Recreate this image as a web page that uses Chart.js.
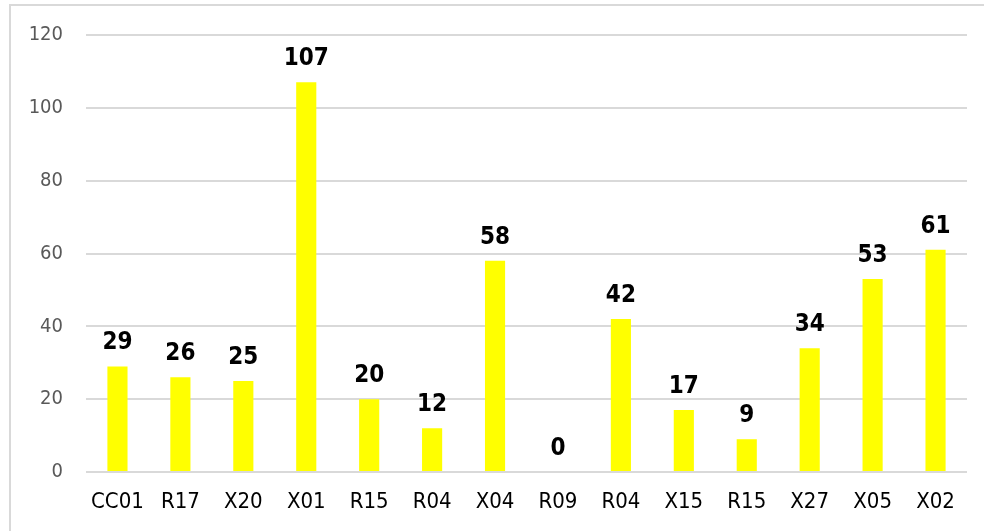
<!DOCTYPE html>
<html>
<head>
<meta charset="utf-8">
<script src="https://cdn.jsdelivr.net/npm/chart.js@4/dist/chart.umd.min.js"></script>
<style>
html,body{margin:0;padding:0;background:#fff;}
#wrap{position:relative;width:984px;height:531px;}
</style>
</head>
<body>
<div id="wrap"><canvas id="c" width="984" height="531"></canvas></div>
<script>
const categories = ["CC01","R17","X20","X01","R15","R04","X04","R09","R04","X15","R15","X27","X05","X02"];
const values = [29,26,25,107,20,12,58,0,42,17,9,34,53,61];
const yTicks = [0,20,40,60,80,100,120];

const FONT = "'DejaVu Sans Condensed','DejaVu Sans',sans-serif";

const borderPlugin = {
  id: 'outerBorder',
  beforeDraw(chart) {
    const ctx = chart.ctx;
    ctx.save();
    ctx.strokeStyle = '#d9d9d9';
    ctx.lineWidth = 2;
    ctx.strokeRect(10, 5, 1200, 1200);
    ctx.restore();
  }
};

const labelPlugin = {
  id: 'valueLabels',
  afterDatasetsDraw(chart) {
    const ctx = chart.ctx;
    const meta = chart.getDatasetMeta(0);
    ctx.save();
    ctx.font = "bold 24px " + FONT;
    ctx.fillStyle = '#000';
    ctx.textAlign = 'center';
    ctx.textBaseline = 'alphabetic';
    meta.data.forEach((bar, i) => {
      ctx.fillText(String(chart.data.datasets[0].data[i]), bar.x, bar.y - 17);
    });
    ctx.restore();
  }
};

new Chart(document.getElementById('c'), {
  type: 'bar',
  data: {
    labels: categories,
    datasets: [{
      data: values,
      backgroundColor: '#FFFF00',
      borderWidth: 0,
      barPercentage: 0.32,
      categoryPercentage: 1.0
    }]
  },
  options: {
    responsive: false,
    animation: false,
    devicePixelRatio: 1,
    layout: { padding: { left: 0, top: 34, right: 17, bottom: 0 } },
    plugins: { legend: { display: false }, tooltip: { enabled: false } },
    scales: {
      x: {
        grid: { display: false, drawTicks: false },
        border: { display: false },
        ticks: { color: '#000', font: { family: FONT, size: 22 }, padding: 17, maxRotation: 0, autoSkip: false },
        afterFit(scale) { scale.height = 59; }
      },
      y: {
        min: 0, max: 120,
        afterBuildTicks(scale) { scale.ticks = yTicks.map(v => ({ value: v })); },
        grid: { color: '#d9d9d9', lineWidth: 2, drawTicks: false },
        border: { display: false },
        ticks: { color: '#595959', font: { family: FONT, size: 20 }, padding: 23 },
        afterFit(scale) { scale.width = 86; }
      }
    }
  },
  plugins: [borderPlugin, labelPlugin]
});
</script>
</body>
</html>
